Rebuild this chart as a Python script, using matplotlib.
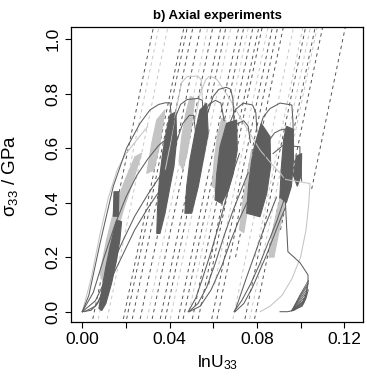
import matplotlib
matplotlib.use("Agg")
import matplotlib.pyplot as plt

plt.rcParams['font.family'] = ['Liberation Sans', 'DejaVu Sans']
plt.rcParams['mathtext.fontset'] = 'custom'
plt.rcParams['mathtext.rm'] = 'Liberation Sans'
plt.rcParams['mathtext.it'] = 'Liberation Sans:italic'

# ---------------- data ----------------
E_mod = 38.5  # elastic slope of the dashed unloading lines (GPa)

dash_dark_x0 = [0.0055, 0.0195, 0.0210, 0.0236, 0.0272, 0.0327, 0.0364, 0.0387, 0.0446, 0.0469,
                0.0511, 0.0538, 0.0553, 0.0600, 0.0624, 0.0650, 0.0752, 0.0796, 0.0830, 0.0934]
dash_dark_start = [-0.1, -0.1, -0.1, -0.1, -0.1, -0.1, -0.1, -0.1, -0.1, -0.1,
                   -0.1, -0.1, 0.1, -0.1, -0.1, 0.2, -0.1, -0.1, 0.3, 0.45]
dash_light_x0 = [0.0080, 0.0121, 0.0304, 0.0410, 0.0490, 0.0580, 0.0697, 0.0740, 0.0774, 0.0805]
dash_light_start = [-0.1, -0.1, -0.1, -0.1, 0.0, 0.1, -0.1, 0.2, -0.1, 0.3]

# dense cyclic bands (outline vertices)
band_dark_1_x = [0.0076, 0.0089, 0.0108, 0.0127, 0.0145, 0.0157, 0.0180, 0.0172, 0.0157, 0.0134, 0.0108, 0.0089]
band_dark_1_s = [0.012, 0.079, 0.165, 0.238, 0.299, 0.336, 0.330, 0.263, 0.189, 0.104, 0.030, 0.004]
band_dark_2_x = [0.0142, 0.0145, 0.0168, 0.0165]
band_dark_2_s = [0.35, 0.44, 0.44, 0.35]
band_dark_3_x = [0.0341, 0.0345, 0.0353, 0.0368, 0.0386, 0.0402, 0.0429, 0.0432, 0.0420, 0.0402, 0.0379, 0.0356]
band_dark_3_s = [0.287, 0.385, 0.483, 0.581, 0.666, 0.721, 0.733, 0.629, 0.532, 0.459, 0.361, 0.287]
band_dark_4_x = [0.0470, 0.0478, 0.0493, 0.0516, 0.0539, 0.0570, 0.0577, 0.0554, 0.0531, 0.0501]
band_dark_4_s = [0.361, 0.458, 0.556, 0.654, 0.740, 0.764, 0.654, 0.556, 0.458, 0.361]
band_dark_5_x = [0.0608, 0.0616, 0.0631, 0.0661, 0.0707, 0.0710, 0.0692, 0.0669, 0.0638]
band_dark_5_s = [0.410, 0.507, 0.605, 0.691, 0.703, 0.593, 0.507, 0.446, 0.397]
band_dark_6_x = [0.0753, 0.0761, 0.0776, 0.0799, 0.0820, 0.0860, 0.0863, 0.0845, 0.0814]
band_dark_6_s = [0.361, 0.458, 0.556, 0.629, 0.690, 0.642, 0.532, 0.434, 0.348]
band_dark_7_x = [0.0905, 0.0912, 0.0922, 0.0935, 0.0965, 0.0968, 0.0958, 0.0935]
band_dark_7_s = [0.42, 0.53, 0.63, 0.68, 0.67, 0.56, 0.46, 0.40]
band_dark_8_x = [0.0967, 0.0980, 0.1005, 0.1003, 0.0985]
band_dark_8_s = [0.50, 0.57, 0.58, 0.50, 0.46]

band_light_1_x = [0.0081, 0.0111, 0.0150, 0.0196, 0.0241, 0.0272, 0.0234, 0.0188, 0.0150, 0.0119, 0.0096]
band_light_1_s = [0.141, 0.263, 0.385, 0.483, 0.568, 0.581, 0.483, 0.373, 0.263, 0.165, 0.104]
band_light_2_x = [0.0295, 0.0318, 0.0341, 0.0379, 0.0356, 0.0328]
band_light_2_s = [0.507, 0.617, 0.703, 0.740, 0.617, 0.519]
band_light_3_x = [0.0443, 0.0455, 0.0475, 0.0495, 0.0515, 0.0500, 0.0480, 0.0460]
band_light_3_s = [0.55, 0.64, 0.73, 0.79, 0.78, 0.68, 0.58, 0.52]
band_light_4_x = [0.0595, 0.0605, 0.0620, 0.0640, 0.0658, 0.0645, 0.0628, 0.0612]
band_light_4_s = [0.46, 0.56, 0.65, 0.71, 0.70, 0.61, 0.52, 0.45]
band_light_5_x = [0.0720, 0.0735, 0.0755, 0.0775, 0.0795, 0.0778, 0.0758, 0.0740]
band_light_5_s = [0.30, 0.40, 0.50, 0.59, 0.58, 0.48, 0.38, 0.29]
band_light_6_x = [0.0855, 0.0870, 0.0895, 0.0920, 0.0940, 0.0925, 0.0900, 0.0878]
band_light_6_s = [0.20, 0.29, 0.38, 0.46, 0.47, 0.38, 0.29, 0.20]

# solid loading curves (dark)
curve_a1_x = [0, 0.003, 0.0081, 0.0142, 0.0203, 0.0264, 0.031, 0.035, 0.038, 0.0402, 0.041]
curve_a1_s = [0, 0.06, 0.25, 0.46, 0.60, 0.69, 0.74, 0.760, 0.766, 0.766, 0.70]
curve_a3_x = [0, 0.005, 0.010, 0.015, 0.020, 0.025, 0.030, 0.035, 0.038]
curve_a3_s = [0, 0.07, 0.20, 0.32, 0.42, 0.50, 0.56, 0.61, 0.63]
curve_a4_x = [0, 0.006, 0.012, 0.018, 0.024, 0.030, 0.035, 0.038]
curve_a4_s = [0, 0.04, 0.14, 0.25, 0.35, 0.43, 0.49, 0.52]
curve_a5_x = [0, 0.004, 0.007, 0.009, 0.011, 0.013]
curve_a5_s = [0, 0.005, 0.03, 0.07, 0.13, 0.20]
curve_a6_x = [0.001, 0.006, 0.012, 0.018, 0.024, 0.030, 0.036]
curve_a6_s = [0.0, 0.02, 0.10, 0.20, 0.30, 0.38, 0.45]
curve_b1_x = [0.0395, 0.042, 0.045, 0.048, 0.053, 0.055, 0.0555]
curve_b1_s = [0.60, 0.70, 0.76, 0.778, 0.782, 0.775, 0.70]
curve_b2_x = [0.041, 0.043, 0.046, 0.049, 0.051, 0.052]
curve_b2_s = [0.52, 0.62, 0.69, 0.72, 0.72, 0.65]
curve_b3_x = [0.0545, 0.057, 0.060, 0.0625, 0.066, 0.068, 0.069, 0.0695]
curve_b3_s = [0.62, 0.72, 0.79, 0.815, 0.823, 0.815, 0.78, 0.70]
curve_b4_x = [0.052, 0.055, 0.058, 0.061, 0.0635, 0.065]
curve_b4_s = [0.60, 0.71, 0.76, 0.775, 0.765, 0.70]
curve_b5_x = [0.065, 0.067, 0.070, 0.0737, 0.078, 0.0795, 0.080]
curve_b5_s = [0.60, 0.68, 0.74, 0.765, 0.758, 0.73, 0.66]
curve_b6_x = [0.078, 0.080, 0.0829, 0.086, 0.0906, 0.096, 0.0965, 0.0968]
curve_b6_s = [0.58, 0.64, 0.714, 0.745, 0.765, 0.758, 0.70, 0.605]
curve_b7_x = [0.0835, 0.0846, 0.088, 0.0906, 0.093, 0.0945, 0.095]
curve_b7_s = [0.55, 0.617, 0.655, 0.666, 0.67, 0.64, 0.58]
curve_b8_x = [0.066, 0.068, 0.071, 0.074, 0.076, 0.077]
curve_b8_s = [0.58, 0.64, 0.69, 0.70, 0.68, 0.62]
curve_b9_x = [0.0874, 0.092, 0.0997, 0.0997, 0.1005]
curve_b9_s = [0.58, 0.61, 0.605, 0.56, 0.48]
curve_c1_x = [0.0485, 0.052, 0.055, 0.059, 0.063, 0.066, 0.069, 0.072]
curve_c1_s = [0, 0.05, 0.12, 0.22, 0.33, 0.42, 0.51, 0.58]
curve_c2_x = [0.0488, 0.053, 0.057, 0.061, 0.065, 0.069, 0.073, 0.076]
curve_c2_s = [0, 0.03, 0.09, 0.18, 0.28, 0.37, 0.45, 0.51]
curve_c3_x = [0.049, 0.054, 0.059, 0.064, 0.068, 0.072, 0.076, 0.079]
curve_c3_s = [0, 0.02, 0.08, 0.17, 0.26, 0.34, 0.41, 0.46]
curve_d1_x = [0.0695, 0.073, 0.077, 0.081, 0.085, 0.089, 0.092, 0.094]
curve_d1_s = [0, 0.04, 0.10, 0.17, 0.25, 0.33, 0.40, 0.45]
curve_d2_x = [0.0698, 0.072, 0.075, 0.079, 0.083, 0.087, 0.089]
curve_d2_s = [0, 0.05, 0.12, 0.21, 0.30, 0.38, 0.42]
curve_d3_x = [0.070, 0.074, 0.078, 0.0845, 0.0906, 0.093]
curve_d3_s = [0, 0.03, 0.09, 0.21, 0.336, 0.38]
curve_e1_x = [0.0924, 0.0933, 0.0942, 0.0997, 0.1034, 0.1034]
curve_e1_s = [0.52, 0.36, 0.22, 0.18, 0.135, 0.11]
curve_e2_x = [0.0906, 0.094, 0.097, 0.100, 0.1025, 0.1035]
curve_e2_s = [0, 0.0, 0.005, 0.02, 0.05, 0.08]

# small unloading fan at the failure point
fan_top_x = [0.1015, 0.1022, 0.1028, 0.1032, 0.1035, 0.1036]
fan_top_s = [0.050, 0.065, 0.080, 0.095, 0.105, 0.115]
fan_up_x = [0.0990, 0.0993, 0.0995, 0.0997, 0.0998, 0.0999]
fan_up_s = [0.028, 0.036, 0.044, 0.052, 0.058, 0.064]
fan_back_x = [0.1008, 0.1012, 0.1016, 0.1019, 0.1021, 0.1023]
fan_back_s = [0.020, 0.026, 0.032, 0.038, 0.043, 0.048]
fan_base_x = 0.0960
fan_base_s = 0.004

# solid curves (light)
curve_l0_x = [0, 0.004, 0.008, 0.012, 0.016, 0.020, 0.024, 0.030]
curve_l0_s = [0, 0.12, 0.28, 0.42, 0.52, 0.58, 0.62, 0.68]
curve_l1_x = [0.038, 0.040, 0.043, 0.0455, 0.048, 0.053, 0.0545, 0.055]
curve_l1_s = [0.52, 0.60, 0.74, 0.84, 0.862, 0.864, 0.85, 0.78]
curve_l2_x = [0.0515, 0.054, 0.0565, 0.058, 0.061, 0.063, 0.0678, 0.074, 0.0814, 0.0875, 0.0905,
              0.093, 0.1043, 0.1038, 0.1025, 0.100, 0.096, 0.0915, 0.086, 0.0815]
curve_l2_s = [0.70, 0.80, 0.85, 0.862, 0.858, 0.837, 0.776, 0.69, 0.593, 0.535, 0.51,
              0.485, 0.47, 0.40, 0.30, 0.20, 0.12, 0.06, 0.02, 0.0]

x_ticks = [0.00, 0.02, 0.04, 0.06, 0.08, 0.10, 0.12]
x_tick_labels = ['0.00', '', '0.04', '', '0.08', '', '0.12']
y_ticks = [0.0, 0.2, 0.4, 0.6, 0.8, 1.0]
y_tick_labels = ['0.0', '0.2', '0.4', '0.6', '0.8', '1.0']

# ---------------- styling ----------------
DARK = '#5e5e5e'
LIGHT = '#c4c4c4'
DASH_DARK = '#555555'
DASH_LIGHT = '#c8c8c8'
LW = 0.75

fig = plt.figure(figsize=(3.67, 3.82), dpi=100)
ax = fig.add_axes([71 / 367, 1 - 322 / 382, (363 - 71) / 367, (322 - 27) / 382])

S_TOP = 1.2
for x0, st in zip(dash_dark_x0, dash_dark_start):
    ax.plot([x0 + st / E_mod, x0 + S_TOP / E_mod], [st, S_TOP], color=DASH_DARK,
            lw=0.7, dashes=(3.5, 3.5), zorder=1)
for x0, st in zip(dash_light_x0, dash_light_start):
    ax.plot([x0 + st / E_mod, x0 + S_TOP / E_mod], [st, S_TOP], color=DASH_LIGHT,
            lw=0.7, dashes=(3.5, 3.5), zorder=1)

dark_bands = [(band_dark_1_x, band_dark_1_s), (band_dark_2_x, band_dark_2_s),
              (band_dark_3_x, band_dark_3_s), (band_dark_4_x, band_dark_4_s),
              (band_dark_5_x, band_dark_5_s), (band_dark_6_x, band_dark_6_s),
              (band_dark_7_x, band_dark_7_s), (band_dark_8_x, band_dark_8_s)]
light_bands = [(band_light_1_x, band_light_1_s), (band_light_2_x, band_light_2_s),
               (band_light_3_x, band_light_3_s), (band_light_4_x, band_light_4_s),
               (band_light_5_x, band_light_5_s), (band_light_6_x, band_light_6_s)]
for bx, bs in light_bands:
    ax.fill(bx, bs, color=LIGHT, lw=0.8, zorder=2)
for bx, bs in dark_bands:
    ax.fill(bx, bs, color=DARK, lw=0.8, zorder=3)

light_curves = [(curve_l0_x, curve_l0_s), (curve_l1_x, curve_l1_s), (curve_l2_x, curve_l2_s)]
dark_curves = [(curve_a1_x, curve_a1_s), (curve_a3_x, curve_a3_s), (curve_a4_x, curve_a4_s),
               (curve_a5_x, curve_a5_s), (curve_a6_x, curve_a6_s), (curve_b1_x, curve_b1_s),
               (curve_b2_x, curve_b2_s), (curve_b3_x, curve_b3_s), (curve_b4_x, curve_b4_s),
               (curve_b5_x, curve_b5_s), (curve_b6_x, curve_b6_s), (curve_b7_x, curve_b7_s),
               (curve_b8_x, curve_b8_s), (curve_b9_x, curve_b9_s), (curve_c1_x, curve_c1_s),
               (curve_c2_x, curve_c2_s), (curve_c3_x, curve_c3_s), (curve_d1_x, curve_d1_s),
               (curve_d2_x, curve_d2_s), (curve_d3_x, curve_d3_s), (curve_e1_x, curve_e1_s),
               (curve_e2_x, curve_e2_s)]
for cx, cs in light_curves:
    ax.plot(cx, cs, color=LIGHT, lw=LW, zorder=4)
for cx, cs in dark_curves:
    ax.plot(cx, cs, color=DARK, lw=LW, zorder=5)

for tx, ts, ux, us, bx, bs in zip(fan_top_x, fan_top_s, fan_up_x, fan_up_s, fan_back_x, fan_back_s):
    ax.plot([fan_base_x, ux, tx, bx, fan_base_x], [fan_base_s, us, ts, bs, fan_base_s],
            color=DARK, lw=0.6, zorder=5)

ax.set_xlim(-0.00518, 0.1286)
ax.set_ylim(-0.0378, 1.044)
ax.set_xticks(x_ticks)
ax.set_xticklabels(x_tick_labels)
ax.set_yticks(y_ticks)
ax.set_yticklabels(y_tick_labels, rotation=90, va='center')
ax.tick_params(direction='out', length=4.5, width=0.8, labelsize=12.5, pad=3, colors='black')
for sp in ax.spines.values():
    sp.set_linewidth(0.9)

ax.set_xlabel('lnU$_{33}$', fontsize=12.5)
ax.xaxis.set_label_coords(0.503, -0.105)
ax.set_ylabel('σ$_{33}$ / GPa', fontsize=13.5)
ax.yaxis.set_label_coords(-0.175, 0.495)

fig.text(217 / 367, 1 - 16 / 382, 'b) Axial experiments', ha='center', va='center',
         fontsize=9.5, fontweight='bold')

fig.savefig('out.png', dpi=100)
